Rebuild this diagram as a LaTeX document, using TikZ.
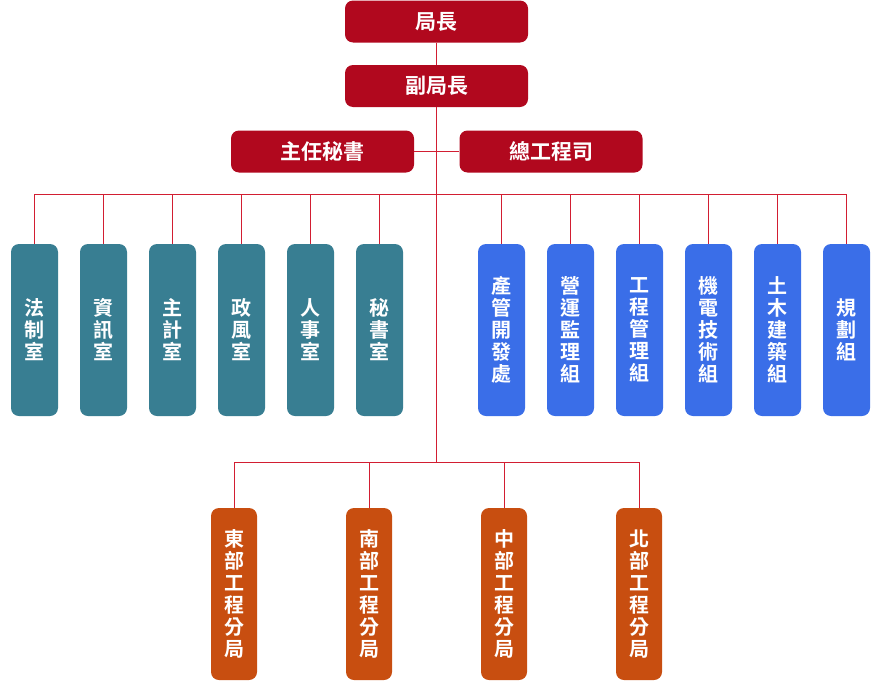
\documentclass[tikz,border=0pt]{standalone}
\usepackage{fontspec}
\newfontfamily\cjk{Noto Sans CJK TC}[BoldFont={Noto Sans CJK TC Bold}]
\definecolor{headred}{RGB}{177,8,30}
\definecolor{officeteal}{RGB}{56,126,146}
\definecolor{groupblue}{RGB}{58,110,232}
\definecolor{branchorange}{RGB}{200,78,16}
\definecolor{linkred}{RGB}{210,30,50}
\begin{document}
\begin{tikzpicture}[x=1pt,y=-1pt,
    box/.style={rounded corners=8pt, inner sep=0pt, text=white, align=center,
      font=\cjk\bfseries\fontsize{20}{22}\selectfont},
    headbox/.style={box, fill=headred, minimum width=183pt, minimum height=42pt,
      font=\cjk\bfseries\fontsize{21}{24}\selectfont},
    officebox/.style={box, fill=officeteal, minimum width=47pt, minimum height=172pt},
    groupbox/.style={box, fill=groupblue, minimum width=47pt, minimum height=172pt},
    branchbox/.style={box, fill=branchorange, minimum width=46pt, minimum height=172pt},
    link/.style={draw=linkred, line width=1pt}]
    \useasboundingbox (0,0) rectangle (880,680);
    % top
    \node[headbox] (chief) at (436.5,21.5) {局長};
    \node[headbox] (deputy) at (436.5,86) {副局長};
    \node[headbox] (secretary) at (322.5,151.5) {主任秘書};
    \node[headbox] (engineer) at (551,151.5) {總工程司};
    \coordinate (upperbus) at (436.5,194);
    \coordinate (lowerbus) at (436.5,462.5);
    % offices
    \node[officebox] (law) at (34.5,330) {法\\制\\室};
    \node[officebox] (info) at (103.5,330) {資\\訊\\室};
    \node[officebox] (acct) at (172.5,330) {主\\計\\室};
    \node[officebox] (ethics) at (241.5,330) {政\\風\\室};
    \node[officebox] (personnel) at (310.5,330) {人\\事\\室};
    \node[officebox] (clerical) at (379.5,330) {秘\\書\\室};
    % groups
    \node[groupbox] (assets) at (501.5,330) {產\\管\\開\\發\\處};
    \node[groupbox] (operation) at (570.5,330) {營\\運\\監\\理\\組};
    \node[groupbox] (project) at (639.5,330) {工\\程\\管\\理\\組};
    \node[groupbox] (mecha) at (708.5,330) {機\\電\\技\\術\\組};
    \node[groupbox] (civil) at (777.5,330) {土\\木\\建\\築\\組};
    \node[groupbox] (planning) at (846.5,330) {規\\劃\\組};
    % branches
    \node[branchbox] (eastbr) at (234,594) {東\\部\\工\\程\\分\\局};
    \node[branchbox] (southbr) at (369,594) {南\\部\\工\\程\\分\\局};
    \node[branchbox] (centralbr) at (504,594) {中\\部\\工\\程\\分\\局};
    \node[branchbox] (northbr) at (639,594) {北\\部\\工\\程\\分\\局};
    % lines
    \draw[link] (chief) -- (deputy);
    \draw[link] (deputy) -- (lowerbus);
    \draw[link] (secretary) -- (engineer);
    \foreach \n in {law,info,acct,ethics,personnel,clerical,assets,operation,project,mecha,civil,planning}
      \draw[link] (\n.north) |- (upperbus);
    \foreach \n in {eastbr,southbr,centralbr,northbr}
      \draw[link] (\n.north) |- (lowerbus);
\end{tikzpicture}
\end{document}
